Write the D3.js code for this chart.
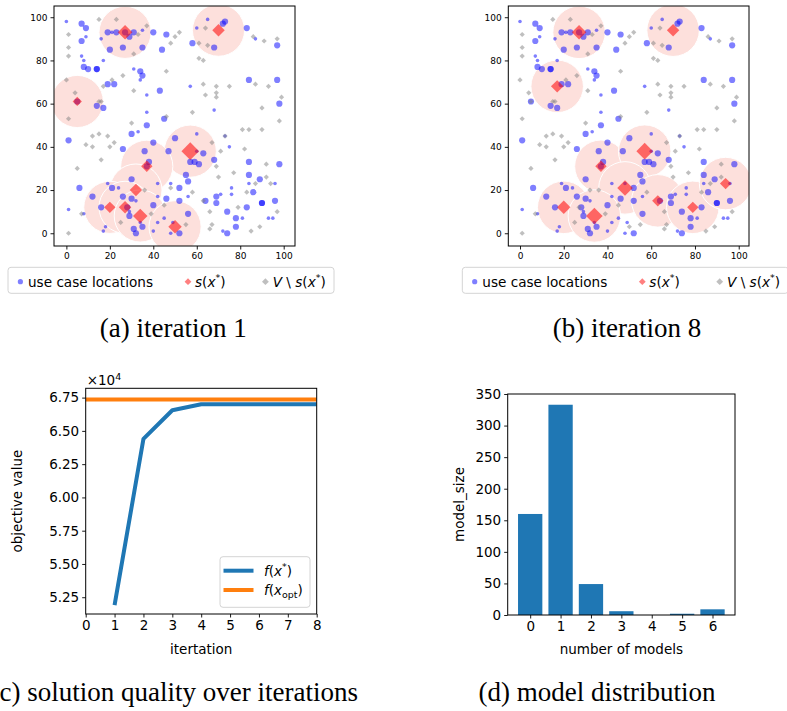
<!DOCTYPE html>
<html>
<head>
<meta charset="utf-8">
<script src="https://cdn.jsdelivr.net/npm/d3@7"></script>
<style>
  body { margin: 0; background: #fff; }
  svg { display: block; }
  text { font-family: "DejaVu Sans", sans-serif; fill: #000; }
  .caption { font-family: "Liberation Serif", serif; font-size: 27px; }
</style>
</head>
<body>
<svg id="fig" width="787" height="711"></svg>
<script>
// use case locations [x, y, demand]
const useCases = [
  [0,98,1],[7,97,3],[9,95,3],[9,91,1],[7,89,3],[16,90,1],[19,93,3],[21,93,1],[23,93,3],[27,93,3],
  [29,91,3],[31,93,3],[35,94,1],[40,93,3],[46,92,3],[20,85,3],[26,86,3],[35,86,3],[44,85,3],[7,82,1],
  [8,80,1],[17,80,1],[8,77,3],[10,76,3],[14,76,3],[14,76,3],[31,76,1],[34,75,3],[35,73,3],[34,71,1],
  [19,69,3],[22,69,3],[43,66,3],[37,64,1],[5,61,3],[14,59,3],[17,58,3],[37,56,1],[45,53,3],[37,50,3],
  [30,46,3],[33,47,1],
  [65,99,1],[73,98,3],[72,97,3],[60,95,1],[83,95,3],[58,88,3],[68,86,3],[87,90,1],[97,87,3],[57,68,1],
  [84,71,3],[97,71,3],[98,60,3],[68,57,1],
  [1,43,3],[40,42,3],[26,39,3],[36,38,3],[47,38,3],[38,33,3],[37,31,3],[6,21,3],[19,23,1],[21,21,3],
  [24,21,1],[30,25,3],[42,23,1],[46,16,3],[12,17,3],[16,12,3],[26,17,3],[30,16,3],[32,15,1],[28,12,3],
  [29,10,1],[29,8,3],[40,13,3],[34,5,1],[8,9,1],[1,11,1],[18,3,1],[17,1,1],[31,2,3],[32,0,3],
  [35,3,3],[42,5,1],[40,1,1],[45,7,1],[42,17,1],
  [50,44,3],[60,46,1],[73,45,1],[63,37,3],[60,38,1],[57,33,3],[59,33,3],[61,32,3],[75,40,1],[68,34,3],
  [84,33,3],[98,32,3],[76,21,1],[84,27,3],[89,25,3],[96,23,1],[84,23,1],[86,19,3],[55,27,3],[56,24,3],
  [48,23,1],[52,21,3],[56,17,1],[52,15,3],[64,15,3],[69,17,3],[71,18,1],[76,18,1],[69,14,3],[83,12,3],
  [90,14,3],[90,14,3],[96,15,3],[74,10,3],[78,7,3],[81,7,1],[93,7,1],[95,7,1],[78,3,3],[72,1,1],
  [74,0,3],[52,0,3],[48,0,1],[49,5,1],[56,9,3]
];

// candidate locations V
const candidates = [
  [15,99],[23,99],[1,92],[33,92],[37,96],[48,88],[50,91],[52,93],[64,95],[1,86],[1,82],[31,83],
  [61,88],[65,87],[86,91],[91,89],[97,90],[61,81],[63,80],[26,73],[46,75],[0,71],[17,68],[21,71],
  [31,66],[4,65],[15,61],[16,61],[63,69],[69,68],[75,68],[87,69],[93,68],[64,64],[69,65],[69,63],
  [99,63],[90,58],[58,56],[98,52],[1,53],[46,54],[30,51],
  [12,45],[15,46],[19,45],[9,41],[12,40],[22,42],[20,40],[16,34],[5,30],[36,20],[7,9],[39,9],
  [45,13],[25,5],[1,0],
  [73,45],[81,48],[84,48],[90,48],[67,42],[71,38],[82,39],[69,31],[77,28],[92,32],[70,26],[92,26],
  [94,23],[87,23],[83,19],[58,19],[63,15],[79,12],[66,10],[97,10],[67,4],[66,2],[85,1],[89,3],
  [55,4],[48,21],
  [27,93],[70,94],[5,61],[57,38],[37,31],[32,20],[20,12],[27,12],[34,8],[50,3]
];

// s(x*) [x, y, load]
const selectedIter1 = [
  [27,93,49],[70,94,36],[5,61,20],[57,38,72],[37,31,30],[32,20,36],[20,12,30],[27,12,36],[34,8,49],[50,3,42]
];
const selectedIter8 = [
  [27,93,49],[70,94,36],[17,68,36],[37,31,30],[57,38,64],[48,21,56],[20,12,42],[34,8,64],[63,15,30],[79,12,30],[94,23,30]
];

const iterations = [1, 2, 3, 4, 5, 6, 7, 8];
const objective = [51900, 64400, 66550, 67000, 67000, 67000, 67000, 67000];
const optimum = 67350;

const modelCounts = [0, 1, 2, 3, 4, 5, 6];
const modelSizes = [160, 333, 49, 6, 0, 2, 9];

const svg = d3.select('#fig');
svg.append('rect').attr('width', 787).attr('height', 711).attr('fill', '#fff');

function diamond(half) {
  return d3.symbol(d3.symbolSquare, 2 * half * half)();
}

function mathText(sel, parts, size) {
  // parts: [text, italic?, 'sup'|'sub'|null, dy]
  parts.forEach(p => {
    const t = sel.append('tspan').text(p[0]);
    if (p[1]) t.attr('font-style', 'italic');
    if (p[2] === 'sup') t.attr('font-size', size * 0.7).attr('dy', -size * 0.4);
    if (p[2] === 'sub') t.attr('font-size', size * 0.7).attr('dy', size * 0.25);
    if (p[3]) t.attr('dy', p[3]);
  });
}

function frame(l, t, r, b) {
  svg.append('rect').attr('x', l).attr('y', t).attr('width', r - l).attr('height', b - t)
    .attr('fill', 'none').attr('stroke', '#000').attr('stroke-width', 1);
}

function styleAxis(g, fs) {
  g.select('.domain').remove();
  g.selectAll('.tick line').attr('stroke', '#000').attr('stroke-width', 0.9);
  g.selectAll('.tick text').attr('font-size', fs).attr('font-family', '"DejaVu Sans", sans-serif').attr('fill', '#222');
}

function scatterPanel(id, left, right, xdom, selected) {
  const top = 6, bottom = 246;
  const x = d3.scaleLinear().domain(xdom).range([left, right]);
  const y = d3.scaleLinear().domain([-5.9, 105.2]).range([bottom, top]);
  const loadHalf = d3.scaleSqrt().domain([0, 72]).range([0, 8.8]);
  const rDemand = d3.scaleSqrt().domain([0, 3]).range([0, 3.1]);

  svg.append('clipPath').attr('id', 'clip' + id)
    .append('rect').attr('x', left).attr('y', top).attr('width', right - left).attr('height', bottom - top);
  const g = svg.append('g').attr('clip-path', 'url(#clip' + id + ')');

  const selKeys = new Set(selected.map(d => d[0] + ',' + d[1]));
  const rest = candidates.filter(d => !selKeys.has(d[0] + ',' + d[1]));

  g.selectAll('circle.cover').data(selected).join('circle')
    .attr('class', 'cover')
    .attr('cx', d => x(d[0])).attr('cy', d => y(d[1]))
    .attr('r', x(12) - x(0))
    .attr('fill', '#fde0dc').attr('stroke', '#fff').attr('stroke-width', 1);

  g.selectAll('circle.uc').data(useCases).join('circle')
    .attr('class', 'uc')
    .attr('cx', d => x(d[0])).attr('cy', d => y(d[1]))
    .attr('r', d => rDemand(d[2]))
    .attr('fill', '#0000ff').attr('fill-opacity', 0.5);

  g.selectAll('path.rest').data(rest).join('path')
    .attr('class', 'rest')
    .attr('d', diamond(2.6))
    .attr('transform', d => `translate(${x(d[0])},${y(d[1])}) rotate(45)`)
    .attr('fill', '#808080').attr('fill-opacity', 0.5);

  g.selectAll('path.sel').data(selected).join('path')
    .attr('class', 'sel')
    .attr('d', d => diamond(loadHalf(d[2])))
    .attr('transform', d => `translate(${x(d[0])},${y(d[1])}) rotate(45)`)
    .attr('fill', '#ff0000').attr('fill-opacity', 0.55);

  const ticks = [0, 20, 40, 60, 80, 100];
  const ax = svg.append('g').attr('transform', `translate(0,${bottom})`)
    .call(d3.axisBottom(x).tickValues(ticks).tickSize(3.5).tickPadding(3));
  styleAxis(ax, 9);
  const ay = svg.append('g').attr('transform', `translate(${left},0)`)
    .call(d3.axisLeft(y).tickValues(ticks).tickSize(3.5).tickPadding(3));
  styleAxis(ay, 9);
  frame(left, top, right, bottom);

  // legend
  const lx = left - 46, ly = 267.3;
  svg.append('rect').attr('x', lx).attr('y', ly).attr('width', 326).attr('height', 26).attr('rx', 3)
    .attr('fill', '#fff').attr('stroke', '#d4d4d4').attr('stroke-width', 1);
  const cy = ly + 14.4;
  svg.append('circle').attr('cx', lx + 12.4).attr('cy', cy).attr('r', 2.6)
    .attr('fill', '#0000ff').attr('fill-opacity', 0.5);
  svg.append('text').attr('x', lx + 20).attr('y', cy + 5).attr('font-size', 13.6).text('use case locations');
  svg.append('path').attr('d', diamond(3.4)).attr('transform', `translate(${lx + 180},${cy}) rotate(45)`)
    .attr('fill', '#ff0000').attr('fill-opacity', 0.5);
  const t1 = svg.append('text').attr('x', lx + 187).attr('y', cy + 5).attr('font-size', 13.6);
  mathText(t1, [['s', true], ['('], ['x', true], ['*', false, 'sup'], [')', false, null, 13.6 * 0.4]], 13.6);
  svg.append('path').attr('d', diamond(3.4)).attr('transform', `translate(${lx + 257.4},${cy}) rotate(45)`)
    .attr('fill', '#808080').attr('fill-opacity', 0.5);
  const t2 = svg.append('text').attr('x', lx + 264.7).attr('y', cy + 5).attr('font-size', 13.6);
  mathText(t2, [['V', true], [' \\ '], ['s', true], ['('], ['x', true], ['*', false, 'sup'], [')', false, null, 13.6 * 0.4]], 13.6);
}

scatterPanel('a', 54, 295, [-5.7, 105.2], selectedIter1);
scatterPanel('b', 508.3, 749, [-5.35, 104.7], selectedIter8);

// (c) objective over iterations
(function () {
  const left = 85.7, right = 316.7, top = 388.3, bottom = 614;
  const x = d3.scaleLinear().domain([0, 8]).range([left, right]);
  const y = d3.scaleLinear().domain([51240, 68200]).range([bottom, top]);
  svg.append('clipPath').attr('id', 'clipc')
    .append('rect').attr('x', left).attr('y', top).attr('width', right - left).attr('height', bottom - top);
  const g = svg.append('g').attr('clip-path', 'url(#clipc)');
  g.append('line').attr('x1', x(0)).attr('x2', x(8)).attr('y1', y(optimum)).attr('y2', y(optimum))
    .attr('stroke', '#ff7f0e').attr('stroke-width', 4);
  g.append('path').datum(iterations.map((it, i) => [it, objective[i]]))
    .attr('d', d3.line().x(d => x(d[0])).y(d => y(d[1])))
    .attr('fill', 'none').attr('stroke', '#1f77b4').attr('stroke-width', 4).attr('stroke-linejoin', 'round');

  const ax = svg.append('g').attr('transform', `translate(0,${bottom})`)
    .call(d3.axisBottom(x).tickValues([0, 1, 2, 3, 4, 5, 6, 7, 8]).tickFormat(d3.format('d')).tickSize(3.5).tickPadding(3));
  styleAxis(ax, 13.5);
  const ay = svg.append('g').attr('transform', `translate(${left},0)`)
    .call(d3.axisLeft(y).tickValues(d3.range(52500, 67501, 2500)).tickFormat(d => (d / 1e4).toFixed(2)).tickSize(3.5).tickPadding(3));
  styleAxis(ay, 13.5);
  frame(left, top, right, bottom);

  const m = svg.append('text').attr('x', left + 1).attr('y', 385).attr('font-size', 13.5);
  mathText(m, [['×10'], ['4', false, 'sup']], 13.5);

  svg.append('text').attr('x', (left + right) / 2).attr('y', 654).attr('text-anchor', 'middle')
    .attr('font-size', 13.5).text('itertation');
  svg.append('text').attr('transform', `translate(22,${(top + bottom) / 2}) rotate(-90)`)
    .attr('text-anchor', 'middle').attr('font-size', 13.5).text('objective value');

  // legend
  svg.append('rect').attr('x', 220).attr('y', 556.7).attr('width', 90).attr('height', 50.6).attr('rx', 3)
    .attr('fill', '#fff').attr('fill-opacity', 0.8).attr('stroke', '#d4d4d4');
  svg.append('line').attr('x1', 223.5).attr('x2', 253.5).attr('y1', 570.7).attr('y2', 570.7)
    .attr('stroke', '#1f77b4').attr('stroke-width', 4);
  svg.append('line').attr('x1', 223.5).attr('x2', 253.5).attr('y1', 590).attr('y2', 590)
    .attr('stroke', '#ff7f0e').attr('stroke-width', 4);
  const l1 = svg.append('text').attr('x', 264).attr('y', 575.5).attr('font-size', 13.5);
  mathText(l1, [['f', true], ['('], ['x', true], ['*', false, 'sup'], [')', false, null, 13.5 * 0.4]], 13.5);
  const l2 = svg.append('text').attr('x', 264).attr('y', 594.8).attr('font-size', 13.5);
  mathText(l2, [['f', true], ['('], ['x', true], ['opt', false, 'sub'], [')', false, null, -13.5 * 0.25]], 13.5);
})();

// (d) model distribution
(function () {
  const left = 507.7, right = 735, top = 394, bottom = 615;
  const x = d3.scaleLinear().domain([-0.74, 6.74]).range([left, right]);
  const y = d3.scaleLinear().domain([0, 350]).range([bottom, top]);
  svg.append('g').selectAll('rect').data(modelCounts).join('rect')
    .attr('x', d => x(d - 0.4)).attr('width', x(0.8) - x(0))
    .attr('y', (d, i) => y(modelSizes[i])).attr('height', (d, i) => y(0) - y(modelSizes[i]))
    .attr('fill', '#1f77b4');
  const ax = svg.append('g').attr('transform', `translate(0,${bottom})`)
    .call(d3.axisBottom(x).tickValues(modelCounts).tickFormat(d3.format('d')).tickSize(3.5).tickPadding(3));
  styleAxis(ax, 13.5);
  const ay = svg.append('g').attr('transform', `translate(${left},0)`)
    .call(d3.axisLeft(y).tickValues(d3.range(0, 351, 50)).tickSize(3.5).tickPadding(3));
  styleAxis(ay, 13.5);
  frame(left, top, right, bottom);
  svg.append('text').attr('x', (left + right) / 2).attr('y', 654).attr('text-anchor', 'middle')
    .attr('font-size', 13.5).text('number of models');
  svg.append('text').attr('transform', `translate(464,${(top + bottom) / 2}) rotate(-90)`)
    .attr('text-anchor', 'middle').attr('font-size', 13.5).text('model_size');
})();

// captions
const captions = [
  { text: '(a) iteration 1', x: 173.3, y: 337, anchor: 'middle' },
  { text: '(b) iteration 8', x: 627, y: 337, anchor: 'middle' },
  { text: '(c) solution quality over iterations', x: 358, y: 701, anchor: 'end' },
  { text: '(d) model distribution', x: 597, y: 701, anchor: 'middle' }
];
svg.selectAll('text.caption').data(captions).join('text')
  .attr('class', 'caption')
  .attr('x', d => d.x).attr('y', d => d.y)
  .attr('text-anchor', d => d.anchor)
  .text(d => d.text);
</script>
</body>
</html>
